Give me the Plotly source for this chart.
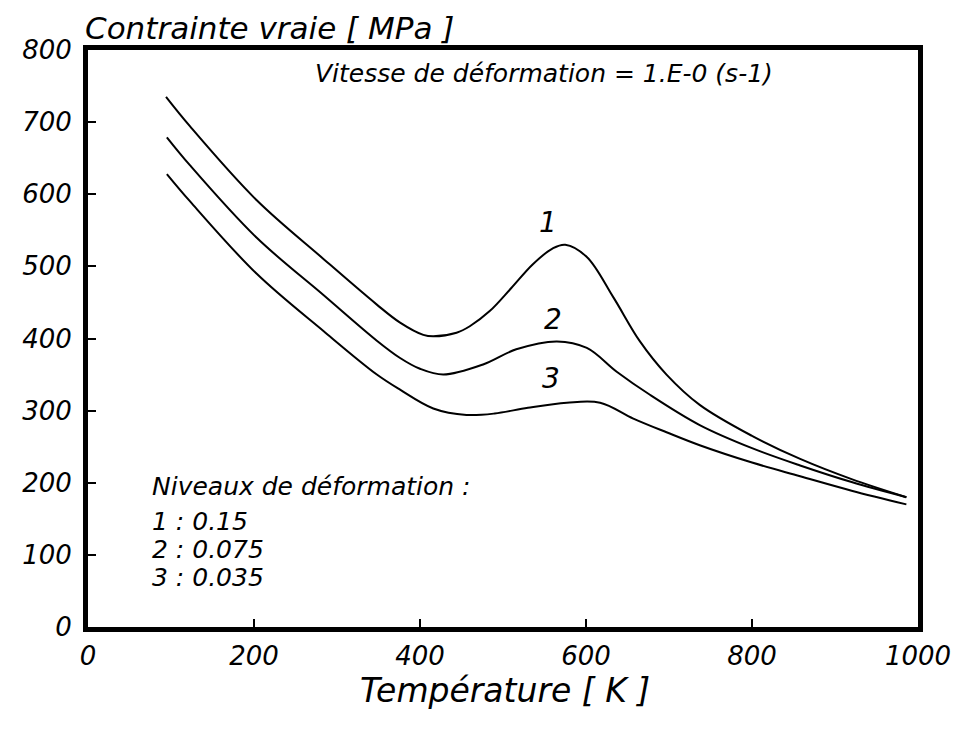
import plotly.graph_objects as go

# Curve 1 : deformation 0.15
t1 = [94, 123, 203, 284, 348, 376, 404, 416, 444, 460, 484, 510, 536, 560, 575, 601, 633, 665, 697, 737, 800, 858, 920, 986]
s1 = [735, 694, 592, 510, 447, 422, 405, 403, 408, 417, 438, 470, 503, 525, 530, 513, 457, 396, 350, 308, 265, 233, 205, 180]
# Curve 2 : deformation 0.075
t2 = [95, 123, 203, 284, 348, 376, 400, 428, 476, 516, 565, 601, 637, 677, 737, 800, 858, 920, 986]
s2 = [679, 640, 540, 460, 397, 373, 358, 350, 364, 385, 396, 387, 354, 322, 280, 248, 224, 201, 180]
# Curve 3 : deformation 0.035
t3 = [95, 123, 203, 284, 348, 376, 416, 456, 490, 530, 577, 617, 657, 697, 737, 800, 858, 920, 986]
s3 = [628, 590, 490, 410, 350, 329, 303, 294, 296, 304, 311, 311, 289, 270, 252, 228, 209, 189, 170]

x_ticks = [0, 200, 400, 600, 800, 1000]
y_ticks = [0, 100, 200, 300, 400, 500, 600, 700, 800]

curve_labels = ["1", "2", "3"]
label_pos_t = [554, 560, 558]
label_pos_s = [561, 426, 345]

FONT = "DejaVu Sans"

# plot frame in page pixels (page body has an 8 px offset)
X0, X1, Y0, Y1 = 88, 918, 50, 627


def px(x):
    return (x - X0) / (X1 - X0)


def py(y):
    return (Y1 - y) / (Y1 - Y0)


fig = go.Figure()
for t, s, name in [(t1, s1, "1"), (t2, s2, "2"), (t3, s3, "3")]:
    fig.add_trace(go.Scatter(x=t, y=s, mode="lines", name=name,
                             line=dict(color="black", width=2, shape="spline", smoothing=1.0),
                             showlegend=False))

for lab, tx, sy in zip(curve_labels, label_pos_t, label_pos_s):
    fig.add_annotation(x=tx, y=sy, text=lab, showarrow=False,
                       font=dict(family=FONT, size=28, color="black", style="italic"))

fig.add_annotation(xref="paper", yref="paper", x=px(83), y=py(28), xanchor="left", yanchor="middle",
                   text="Contrainte vraie [ MPa ]", showarrow=False,
                   font=dict(family=FONT, size=31, color="black", style="italic"))
fig.add_annotation(xref="paper", yref="paper", x=px(505), y=py(690), xanchor="center", yanchor="middle",
                   text="Température [ K ]", showarrow=False,
                   font=dict(family=FONT, size=33, color="black", style="italic"))
fig.add_annotation(xref="paper", yref="paper", x=px(313), y=py(73),
                   xanchor="left", yanchor="middle",
                   text="Vitesse de déformation = 1.E-0 (s-1)", showarrow=False,
                   font=dict(family=FONT, size=25, color="black", style="italic"))
fig.add_annotation(xref="paper", yref="paper", x=px(150), y=py(486),
                   xanchor="left", yanchor="middle",
                   text="Niveaux de déformation :", showarrow=False,
                   font=dict(family=FONT, size=25, color="black", style="italic"))
for line, ypx in zip(["1 : 0.15", "2 : 0.075", "3 : 0.035"], [521, 549, 577]):
    fig.add_annotation(xref="paper", yref="paper", x=px(150), y=py(ypx),
                       xanchor="left", yanchor="middle", text=line, showarrow=False,
                       font=dict(family=FONT, size=25, color="black", style="italic"))

axis_common = dict(showgrid=False, zeroline=False, showline=True, linecolor="black", linewidth=5,
                   mirror=True, ticks="inside", ticklen=8, tickwidth=2, tickcolor="black",
                   tickfont=dict(family=FONT, size=26, color="black", style="italic"))
fig.update_xaxes(range=[0, 1000], tickvals=x_ticks, ticklabelstandoff=2, **axis_common)
fig.update_yaxes(range=[0, 800], tickvals=y_ticks, ticklabelstandoff=6, **axis_common)

W, H = 962, 722
fig.update_layout(width=W, height=H, plot_bgcolor="white", paper_bgcolor="white",
                  margin=dict(l=X0 - 8, r=W - (X1 - 8), t=Y0 - 8, b=H - (Y1 - 8)))

fig.write_html("out.html")
